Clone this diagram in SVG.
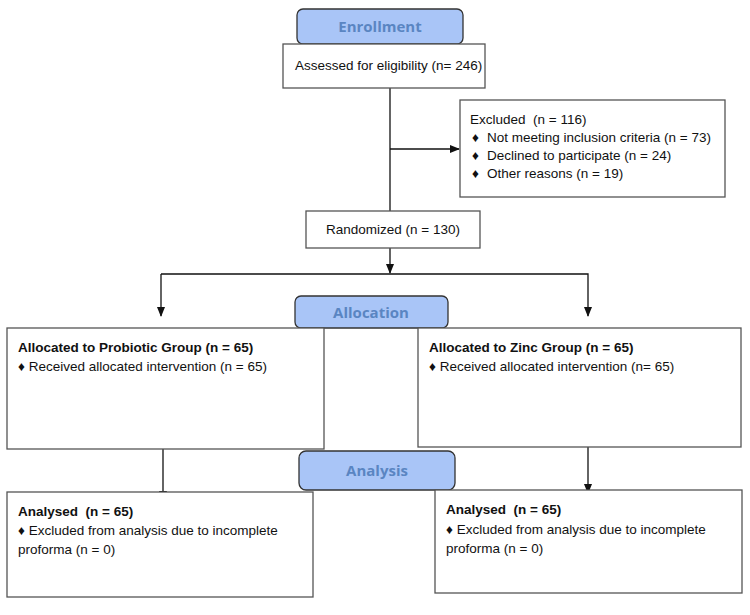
<svg xmlns="http://www.w3.org/2000/svg" width="750" height="615" viewBox="0 0 750 615">
<defs>
<marker id="ah" markerWidth="10" markerHeight="10" refX="9" refY="5" orient="auto" markerUnits="userSpaceOnUse">
<path d="M0,1 L10,5 L0,9 Z" fill="#111"/>
</marker>
<style>
.box{fill:#fff;stroke:#555;stroke-width:1.3}
.pill{fill:#a9c5f7;stroke:#333;stroke-width:1.3}
.pt{font-family:"Open Sans","DejaVu Sans",sans-serif;font-weight:bold;font-size:15px;fill:#5a85c2;text-anchor:middle}
.t{font-family:"Liberation Sans",Arial,sans-serif;font-size:13.5px;fill:#111;white-space:pre}
.b{font-weight:bold}
.c{stroke:#111;stroke-width:1.3;fill:none}
</style>
</defs>
<g id="connectors">
<line class="c" x1="390" y1="88" x2="390" y2="211"/>
<line class="c" x1="390" y1="149" x2="459" y2="149" marker-end="url(#ah)"/>
<line class="c" x1="390" y1="248" x2="390" y2="273" marker-end="url(#ah)"/>
<polyline class="c" points="161,274 588,274 588,316" marker-end="url(#ah)"/>
<line class="c" x1="161" y1="274" x2="161" y2="316" marker-end="url(#ah)"/>
<line class="c" x1="163" y1="449" x2="163" y2="500" marker-end="url(#ah)"/>
<line class="c" x1="588" y1="442" x2="588" y2="493" marker-end="url(#ah)"/>
</g>
<g id="enrollment">
<rect class="pill" x="297" y="9" width="166" height="35" rx="6"/>
<text class="pt" x="380" y="32">Enrollment</text>
</g>
<g id="assessed">
<rect class="box" x="283" y="44" width="202" height="44"/>
<text class="t" x="295" y="70">Assessed for eligibility (n= 246)</text>
</g>
<g id="excluded">
<rect class="box" x="460" y="100" width="265" height="97"/>
<text class="t" x="470" y="124" xml:space="preserve">Excluded  (n = 116)</text>
<text class="t" x="472" y="142">♦</text><text class="t" x="487" y="142">Not meeting inclusion criteria (n = 73)</text>
<text class="t" x="472" y="160">♦</text><text class="t" x="487" y="160">Declined to participate (n = 24)</text>
<text class="t" x="472" y="178">♦</text><text class="t" x="487" y="178">Other reasons (n = 19)</text>
</g>
<g id="randomized">
<rect class="box" x="306" y="211" width="174" height="37"/>
<text class="t" x="393" y="234" text-anchor="middle">Randomized (n = 130)</text>
</g>
<g id="allocation">
<rect class="pill" x="295" y="296" width="153" height="32" rx="6"/>
<text class="pt" x="371" y="318">Allocation</text>
</g>
<g id="probiotic">
<rect class="box" x="7" y="328" width="317" height="121"/>
<text class="t b" x="18" y="352">Allocated to Probiotic Group (n = 65)</text>
<text class="t" x="18" y="371">♦ Received allocated intervention (n = 65)</text>
</g>
<g id="zinc">
<rect class="box" x="418" y="328" width="323" height="119"/>
<text class="t b" x="429" y="352">Allocated to Zinc Group (n = 65)</text>
<text class="t" x="429" y="371">♦ Received allocated intervention (n= 65)</text>
</g>
<g id="analysis">
<rect class="pill" x="299" y="451" width="156" height="39" rx="7"/>
<text class="pt" x="377" y="476">Analysis</text>
</g>
<g id="analysed-probiotic">
<rect class="box" x="7" y="492" width="306" height="105"/>
<text class="t b" x="18" y="516" xml:space="preserve">Analysed  (n = 65)</text>
<text class="t" x="18" y="535">♦ Excluded from analysis due to incomplete</text>
<text class="t" x="18" y="554">proforma (n = 0)</text>
</g>
<g id="analysed-zinc">
<rect class="box" x="435" y="490" width="307" height="103"/>
<text class="t b" x="446" y="514" xml:space="preserve">Analysed  (n = 65)</text>
<text class="t" x="446" y="534">♦ Excluded from analysis due to incomplete</text>
<text class="t" x="446" y="553">proforma (n = 0)</text>
</g>
</svg>
